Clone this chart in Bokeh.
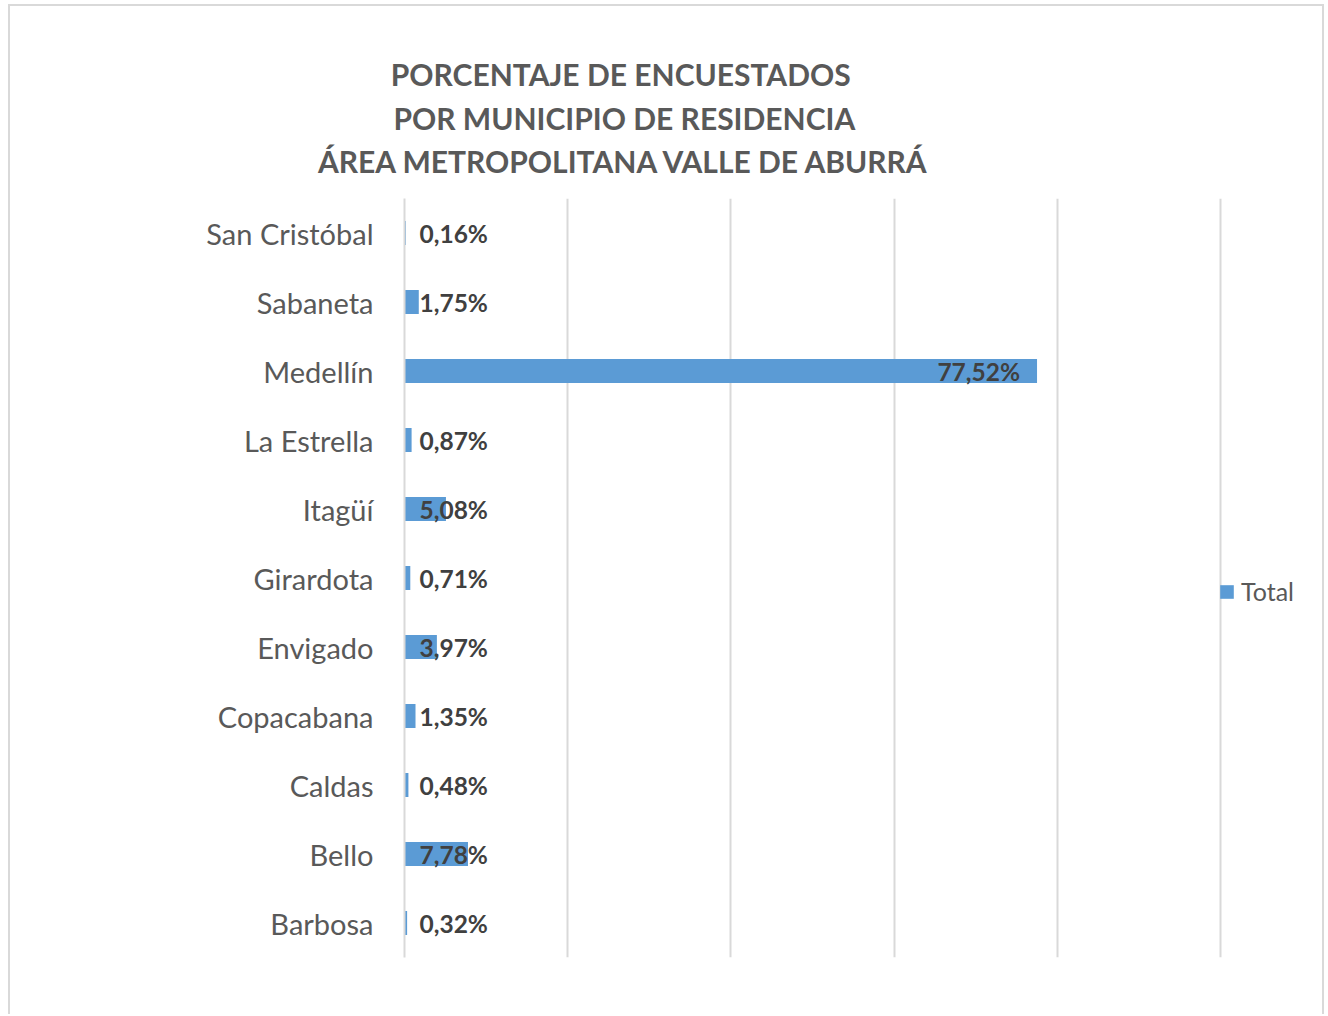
from bokeh.plotting import figure
from bokeh.layouts import column
from bokeh.models import FactorRange, Range1d, FixedTicker, ColumnDataSource
from bokeh.core.properties import value
from bokeh.embed import file_html
from bokeh.resources import INLINE

# ---- data ----
municipios = ["Barbosa", "Bello", "Caldas", "Copacabana", "Envigado", "Girardota",
              "Itagüí", "La Estrella", "Medellín", "Sabaneta", "San Cristóbal"]
porcentajes = [0.32, 7.78, 0.48, 1.35, 3.97, 0.71, 5.08, 0.87, 77.52, 1.75, 0.16]
etiquetas = [f"{v:.2f}%".replace(".", ",") for v in porcentajes]
grid_ticks = [0, 20, 40, 60, 80, 100]
serie = "Total"
titulo = ["PORCENTAJE  DE ENCUESTADOS",
          "POR MUNICIPIO DE RESIDENCIA",
          "ÁREA METROPOLITANA VALLE DE ABURRÁ"]

FONT = "Lato"
GREY = "#595959"
BAR = "#5B9BD5"
LINE = "#d9d9d9"
EDGE = "2px solid #d9d9d9"

# ---- title strip ----
tf = figure(width=1316, height=194, x_range=Range1d(0, 1312), y_range=Range1d(192, 0),
            output_backend="svg", toolbar_location=None,
            min_border_left=0, min_border_right=0, min_border_top=0, min_border_bottom=0)
tf.frame_align = False
tf.styles = {"border-top": EDGE, "border-left": EDGE, "border-right": EDGE}
tf.axis.visible = False
tf.grid.visible = False
tf.outline_line_color = None
tsrc = ColumnDataSource(dict(x=[612] * len(titulo), y=[67 + 43 * i for i in range(len(titulo))],
                             t=titulo))
tf.text(x="x", y="y", text="t", source=tsrc, text_align="center", text_baseline="middle",
        text_font=value(FONT), text_font_style="bold", text_font_size="30px",
        text_color=GREY)

# ---- main chart ----
p = figure(width=1316, height=816,
           y_range=FactorRange(factors=municipios),
           x_range=Range1d(0, 112.75),
           output_backend="svg", toolbar_location=None,
           min_border_left=394, min_border_right=2,
           min_border_top=0, min_border_bottom=57)
p.frame_align = False
p.styles = {"border-left": EDGE, "border-right": EDGE}
p.outline_line_color = None

p.xaxis.visible = False
p.xgrid.ticker = FixedTicker(ticks=grid_ticks)
p.xgrid.grid_line_color = LINE
p.xgrid.grid_line_width = 2
p.ygrid.grid_line_color = None

ax = p.yaxis[0]
ax.axis_line_color = LINE
ax.axis_line_width = 2
ax.major_tick_line_color = None
ax.minor_tick_line_color = None
ax.major_label_standoff = 25
ax.major_label_text_font = FONT
ax.major_label_text_font_size = "29px"
ax.major_label_text_color = GREY

src = ColumnDataSource(dict(m=municipios, v=porcentajes, lab=etiquetas))
p.hbar(y="m", left=0, right="v", height=0.35, source=src,
       fill_color=BAR, line_color=None, legend_label=serie)

big = [i for i, v in enumerate(porcentajes) if v >= 50]
small = [i for i, v in enumerate(porcentajes) if v < 50]
src_small = ColumnDataSource(dict(m=[municipios[i] for i in small],
                                  x0=[0] * len(small),
                                  lab=[etiquetas[i] for i in small]))
src_big = ColumnDataSource(dict(m=[municipios[i] for i in big],
                                v=[porcentajes[i] for i in big],
                                lab=[etiquetas[i] for i in big]))
lab_style = dict(text_font=value(FONT), text_font_style="bold",
                 text_font_size="24.5px", text_color="#404040",
                 text_baseline="middle")
p.text(x="x0", y="m", text="lab", source=src_small, text_align="left",
       x_offset=15, **lab_style)
p.text(x="v", y="m", text="lab", source=src_big, text_align="right",
       x_offset=-17, **lab_style)

lg = p.legend[0]
lg.location = (814, 351)
lg.border_line_color = None
lg.background_fill_alpha = 0
lg.padding = 0
lg.margin = 0
lg.glyph_width = 17
lg.glyph_height = 17
lg.label_standoff = 6
lg.label_text_font = FONT
lg.label_text_font_size = "25px"
lg.label_text_color = GREY

layout = column(tf, p, spacing=0, margin=(4, 0, 0, 8))
open("out.html", "w").write(file_html(layout, INLINE))
